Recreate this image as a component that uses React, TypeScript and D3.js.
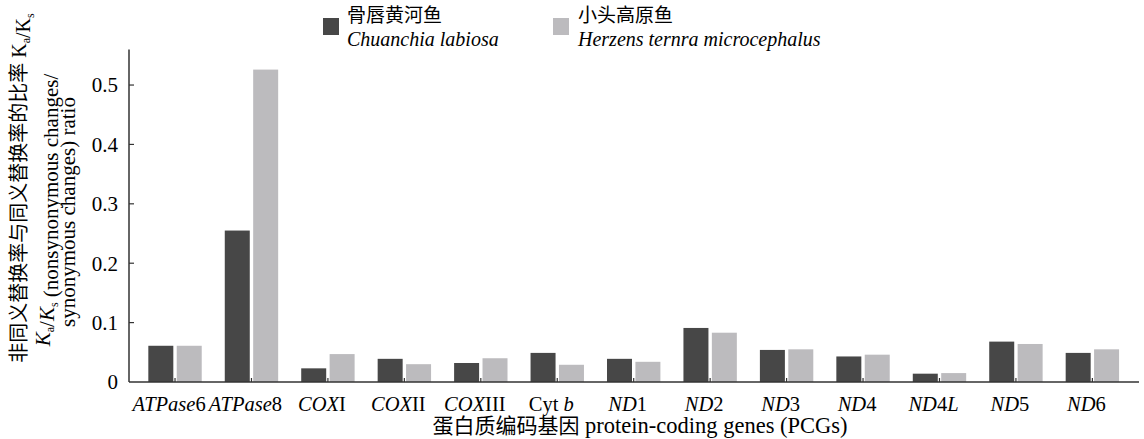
import React from 'react'
import * as d3 from 'd3'

// data
const genes = ['ATPase6', 'ATPase8', 'COXI', 'COXII', 'COXIII', 'Cyt b', 'ND1', 'ND2', 'ND3', 'ND4', 'ND4L', 'ND5', 'ND6']
// label pieces: [text, italic]
const geneLabels: [string, boolean][][] = [
  [['ATPase', true], ['6', false]],
  [['ATPase', true], ['8', false]],
  [['COX', true], ['I', false]],
  [['COX', true], ['II', false]],
  [['COX', true], ['III', false]],
  [['Cyt ', false], ['b', true]],
  [['ND', true], ['1', false]],
  [['ND', true], ['2', false]],
  [['ND', true], ['3', false]],
  [['ND', true], ['4', false]],
  [['ND', true], ['4', false], ['L', true]],
  [['ND', true], ['5', false]],
  [['ND', true], ['6', false]],
]
const series = ['chuanchia', 'herzens']
const chuanchia = [0.061, 0.255, 0.023, 0.039, 0.032, 0.049, 0.039, 0.091, 0.054, 0.043, 0.014, 0.068, 0.049]
const herzens = [0.061, 0.526, 0.047, 0.030, 0.040, 0.029, 0.034, 0.083, 0.055, 0.046, 0.015, 0.064, 0.055]
const yTicks = [0, 0.1, 0.2, 0.3, 0.4, 0.5]
const colors = ['#474747', '#bcbbbe']

const font = {fontFamily: "'Liberation Serif', 'Noto Sans CJK SC', serif"}

const layout = {left: 129, right: 1139, top: 49.4, bottom: 382}

const Sub = ({t, it = true}: {t: string, it?: boolean}) => (
  <>
    <tspan fontStyle={it ? 'italic' : 'normal'}>K</tspan>
    <tspan fontSize={12} dy={4}>{t}</tspan>
    <tspan dy={-4}></tspan>
  </>
)

export default function App() {
  const x0 = d3.scaleBand().domain(genes).range([136.8, 1130.6]).padding(0)
  const x1 = d3.scaleBand().domain(series).range([-26.7, 26.7]).paddingInner(0.12)
  const y = d3.scaleLinear().domain([0, 0.56]).range([layout.bottom, layout.top])

  const rows = genes.map((g, i) => ({gene: g, values: [chuanchia[i], herzens[i]]}))
  const cx = (g: string) => (x0(g) as number) + x0.bandwidth() / 2

  return (
    <svg width={1144} height={439} style={{position: 'absolute', left: 0, top: 0, background: '#fff'}}>
      {/* bars */}
      {rows.map(r => (
        <g key={r.gene} transform={`translate(${cx(r.gene)},0)`}>
          {r.values.map((v, j) => (
            <rect key={j} x={x1(series[j])} width={x1.bandwidth()} y={y(v)} height={y(0) - y(v)}
              fill={colors[j]} />
          ))}
        </g>
      ))}

      {/* y axis */}
      <line x1={layout.left} x2={layout.left} y1={layout.top} y2={layout.bottom} stroke="#333" strokeWidth={1.5} />
      {yTicks.map(t => (
        <g key={t}>
          {t > 0 && <line x1={layout.left} x2={layout.left + 5} y1={y(t)} y2={y(t)} stroke="#333" strokeWidth={1.2} />}
          <text x={118} y={y(t)} dy="0.35em" textAnchor="end" fontSize={21} style={font}>
            {t === 0 ? '0' : d3.format('.1f')(t)}
          </text>
        </g>
      ))}

      {/* x axis */}
      <line x1={layout.left} x2={layout.right} y1={layout.bottom} y2={layout.bottom} stroke="#333" strokeWidth={1.5} />
      {genes.map((g, i) => (
        <g key={g}>
          <line x1={cx(g)} x2={cx(g)} y1={layout.bottom} y2={layout.bottom - 4} stroke="#333" strokeWidth={1.2} />
          <text x={cx(g) - 6} y={411} textAnchor="middle" fontSize={20.5} style={font}>
            {geneLabels[i].map(([s, it], k) => (
              <tspan key={k} fontStyle={it ? 'italic' : 'normal'}>{s}</tspan>
            ))}
          </text>
        </g>
      ))}
      <text x={640} y={433} textAnchor="middle" fontSize={22.5} style={font}>
        <tspan fontSize={21}>蛋白质编码基因</tspan> protein-coding genes (PCGs)
      </text>

      {/* y title */}
      <text transform="translate(26,188) rotate(-90)" textAnchor="middle" fontSize={20} style={font}>
        非同义替换率与同义替换率的比率 <Sub t="a" it={false} />/<Sub t="s" it={false} />
      </text>
      <text transform="translate(50,210) rotate(-90)" textAnchor="middle" fontSize={21} style={font}>
        <Sub t="a" />/<Sub t="s" /> (nonsynonymous changes/
      </text>
      <text transform="translate(75,212) rotate(-90)" textAnchor="middle" fontSize={21} style={font}>
        synonymous changes) ratio
      </text>

      {/* legend */}
      <rect x={323} y={18} width={16} height={17} fill={colors[0]} />
      <text x={347} y={22} fontSize={19} style={font}>骨唇黄河鱼</text>
      <text x={347} y={46} fontSize={20} fontStyle="italic" style={font}>Chuanchia labiosa</text>
      <rect x={553} y={18} width={16} height={17} fill={colors[1]} />
      <text x={578} y={22} fontSize={19} style={font}>小头高原鱼</text>
      <text x={578} y={46} fontSize={20} fontStyle="italic" style={font}>Herzens ternra microcephalus</text>
    </svg>
  )
}
